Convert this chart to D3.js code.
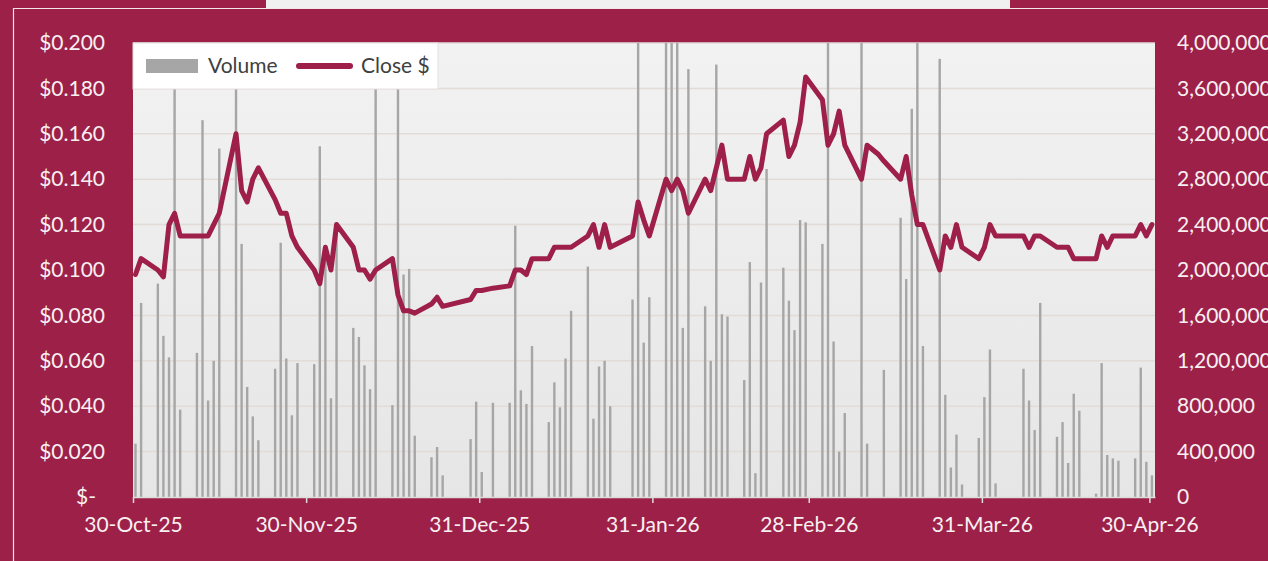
<!DOCTYPE html>
<html>
<head>
<meta charset="utf-8">
<script src="https://cdn.jsdelivr.net/npm/d3@7/dist/d3.min.js"></script>
<style>
html, body { margin: 0; padding: 0; background: #9d2048; }
svg { display: block; font-family: Lato, "Open Sans", sans-serif; }
</style>
</head>
<body>
<svg width="1268" height="561"></svg>
<script>
// trading days, one line per week
var tradeDates = [
  "2025-10-30","2025-10-31",
  "2025-11-03","2025-11-04","2025-11-05","2025-11-06","2025-11-07",
  "2025-11-10","2025-11-11","2025-11-12","2025-11-13","2025-11-14",
  "2025-11-17","2025-11-18","2025-11-19","2025-11-20","2025-11-21",
  "2025-11-24","2025-11-25","2025-11-26","2025-11-27","2025-11-28",
  "2025-12-01","2025-12-02","2025-12-03","2025-12-04","2025-12-05",
  "2025-12-08","2025-12-09","2025-12-10","2025-12-11","2025-12-12",
  "2025-12-15","2025-12-16","2025-12-17","2025-12-18","2025-12-19",
  "2025-12-22","2025-12-23","2025-12-24",
  "2025-12-29","2025-12-30","2025-12-31","2026-01-02",
  "2026-01-05","2026-01-06","2026-01-07","2026-01-08","2026-01-09",
  "2026-01-12","2026-01-13","2026-01-14","2026-01-15","2026-01-16",
  "2026-01-19","2026-01-20","2026-01-21","2026-01-22","2026-01-23",
  "2026-01-27","2026-01-28","2026-01-29","2026-01-30",
  "2026-02-02","2026-02-03","2026-02-04","2026-02-05","2026-02-06",
  "2026-02-09","2026-02-10","2026-02-11","2026-02-12","2026-02-13",
  "2026-02-16","2026-02-17","2026-02-18","2026-02-19","2026-02-20",
  "2026-02-23","2026-02-24","2026-02-25","2026-02-26","2026-02-27",
  "2026-03-02","2026-03-03","2026-03-04","2026-03-05","2026-03-06",
  "2026-03-09","2026-03-10","2026-03-11","2026-03-12","2026-03-13",
  "2026-03-16","2026-03-17","2026-03-18","2026-03-19","2026-03-20",
  "2026-03-23","2026-03-24","2026-03-25","2026-03-26","2026-03-27",
  "2026-03-30","2026-03-31","2026-04-01","2026-04-02",
  "2026-04-07","2026-04-08","2026-04-09","2026-04-10",
  "2026-04-13","2026-04-14","2026-04-15","2026-04-16","2026-04-17",
  "2026-04-20","2026-04-21","2026-04-22","2026-04-23","2026-04-24",
  "2026-04-27","2026-04-28","2026-04-29","2026-04-30"
];

var closePrice = [
  0.098, 0.105,
  0.100, 0.097, 0.120, 0.125, 0.115,
  0.115, 0.115, 0.115, 0.120, 0.125,
  0.160, 0.135, 0.130, 0.140, 0.145,
  0.131, 0.125, 0.125, 0.115, 0.110,
  0.100, 0.094, 0.110, 0.100, 0.120,
  0.110, 0.100, 0.100, 0.096, 0.100,
  0.105, 0.089, 0.082, 0.082, 0.081,
  0.085, 0.088, 0.084,
  0.087, 0.091, 0.091, 0.092,
  0.093, 0.100, 0.100, 0.098, 0.105,
  0.105, 0.110, 0.110, 0.110, 0.110,
  0.115, 0.120, 0.110, 0.120, 0.110,
  0.115, 0.130, 0.122, 0.115,
  0.140, 0.135, 0.140, 0.135, 0.125,
  0.140, 0.135, 0.145, 0.155, 0.140,
  0.140, 0.150, 0.140, 0.145, 0.160,
  0.166, 0.150, 0.155, 0.165, 0.185,
  0.175, 0.155, 0.160, 0.170, 0.155,
  0.140, 0.155, 0.153, 0.151, 0.148,
  0.140, 0.150, 0.133, 0.120, 0.120,
  0.100, 0.115, 0.110, 0.120, 0.110,
  0.105, 0.110, 0.120, 0.115,
  0.115, 0.110, 0.115, 0.115,
  0.110, 0.110, 0.110, 0.105, 0.105,
  0.105, 0.115, 0.110, 0.115, 0.115,
  0.115, 0.120, 0.115, 0.120
];

var volume = [
  470000, 1710000,
  1880000, 1420000, 1230000, 4400000, 770000,
  1270000, 3320000, 850000, 1200000, 3070000,
  4400000, 2230000, 970000, 710000, 500000,
  1130000, 2240000, 1220000, 720000, 1180000,
  1170000, 3090000, 2200000, 870000, 2400000,
  1490000, 1410000, 1160000, 950000, 4400000,
  810000, 4400000, 1960000, 2010000, 540000,
  350000, 440000, 190000,
  510000, 840000, 220000, 830000,
  830000, 2390000, 940000, 820000, 1330000,
  660000, 1010000, 790000, 1220000, 1640000,
  2030000, 690000, 1150000, 1200000, 800000,
  1740000, 4400000, 1360000, 1760000,
  4400000, 4400000, 4400000, 1490000, 3770000,
  1680000, 1200000, 3810000, 1610000, 1590000,
  1030000, 2070000, 210000, 1890000, 2890000,
  2020000, 1730000, 1470000, 2440000, 2420000,
  2230000, 4400000, 1370000, 400000, 740000,
  4400000, 470000, 0, 0, 1120000,
  2460000, 1920000, 3420000, 4400000, 1330000,
  3860000, 900000, 260000, 550000, 110000,
  520000, 880000, 1300000, 120000,
  1130000, 850000, 590000, 1710000,
  530000, 660000, 300000, 910000, 760000,
  30000, 1180000, 370000, 340000, 320000,
  340000, 1140000, 310000, 190000
];

var priceTicks = [0, 0.02, 0.04, 0.06, 0.08, 0.10, 0.12, 0.14, 0.16, 0.18, 0.20];
var volumeTicks = [0, 400000, 800000, 1200000, 1600000, 2000000, 2400000, 2800000, 3200000, 3600000, 4000000];
var dateTicks = ["2025-10-30","2025-11-30","2025-12-31","2026-01-31","2026-02-28","2026-03-31","2026-04-30"];
var legendLabels = ["Volume", "Close $"];

var svg = d3.select("svg");
var W = +svg.attr("width"), H = +svg.attr("height");
var plot = {left: 133, right: 1155, top: 43, bottom: 497};

var parse = d3.utcParse("%Y-%m-%d");
var rows = tradeDates.map(function(d, i) {
  return {date: parse(d), close: closePrice[i], volume: volume[i]};
});

var x = d3.scaleUtc()
  .domain([parse("2025-10-30"), parse("2026-05-01")])
  .range([plot.left, plot.right]);
var yPrice = d3.scaleLinear().domain([0, 0.2]).range([plot.bottom, plot.top]);
var yVol = d3.scaleLinear().domain([0, 4000000]).range([plot.bottom, plot.top]);
var barOffset = 2.5;

// frame bits at the top / left
svg.append("rect").attr("x", 266).attr("y", 0).attr("width", 744).attr("height", 8).attr("fill", "#f0f0f0");
svg.append("path")
  .attr("d", "M13.5," + H + "V8.5H" + W)
  .attr("fill", "none").attr("stroke", "#f4e6ea").attr("stroke-width", 1.2);

var defs = svg.append("defs");
var grad = defs.append("linearGradient").attr("id", "plotBg")
  .attr("x1", 0).attr("y1", 0).attr("x2", 0).attr("y2", 1);
grad.append("stop").attr("offset", "0%").attr("stop-color", "#f2f2f2");
grad.append("stop").attr("offset", "100%").attr("stop-color", "#e6e6e6");
defs.append("clipPath").attr("id", "plotClip").append("rect")
  .attr("x", plot.left).attr("y", plot.top)
  .attr("width", plot.right - plot.left).attr("height", plot.bottom - plot.top);

svg.append("rect")
  .attr("x", plot.left).attr("y", plot.top)
  .attr("width", plot.right - plot.left).attr("height", plot.bottom - plot.top)
  .attr("fill", "url(#plotBg)");

// gridlines
svg.append("g").selectAll("line")
  .data(priceTicks.filter(function(t) { return t > 0; }))
  .enter().append("line")
  .attr("x1", plot.left).attr("x2", plot.right)
  .attr("y1", function(d) { return yPrice(d); })
  .attr("y2", function(d) { return yPrice(d); })
  .attr("stroke", "#e2dcd8").attr("stroke-width", 1.5);

// volume bars
svg.append("g").attr("clip-path", "url(#plotClip)")
  .selectAll("rect")
  .data(rows.filter(function(d) { return d.volume > 0; }))
  .enter().append("rect")
  .attr("x", function(d) { return x(d.date) + barOffset - 1.2; })
  .attr("width", 2.4)
  .attr("y", function(d) { return yVol(d.volume); })
  .attr("height", function(d) { return plot.bottom - yVol(d.volume); })
  .attr("fill", "#a6a6a6");

// close line
var line = d3.line()
  .x(function(d) { return x(d.date) + barOffset; })
  .y(function(d) { return yPrice(d.close); });
svg.append("path")
  .datum(rows)
  .attr("d", line)
  .attr("fill", "none")
  .attr("stroke", "#9d1f4a")
  .attr("stroke-width", 5)
  .attr("stroke-linejoin", "round")
  .attr("stroke-linecap", "round");

// x axis
var xAxis = d3.axisBottom(x)
  .tickValues(dateTicks.map(parse))
  .tickFormat(d3.utcFormat("%d-%b-%y"))
  .tickSizeInner(6).tickSizeOuter(0).tickPadding(14);
var gx = svg.append("g").attr("transform", "translate(0," + plot.bottom + ")").call(xAxis);
gx.select(".domain").attr("stroke", "#dcdcdc").attr("stroke-width", 1.5);
gx.selectAll(".tick line").attr("stroke", "#dcdcdc").attr("stroke-width", 1.5);
gx.selectAll(".tick text").attr("fill", "#f7f0f2").style("font-size", "21px").style("font-family", "Lato");

// left price axis
var fmtPrice = d3.format(".3f");
var yAxisL = d3.axisLeft(yPrice)
  .tickValues(priceTicks)
  .tickFormat(function(d) { return d === 0 ? "$-" : "$" + fmtPrice(d); })
  .tickSize(0).tickPadding(28);
var gl = svg.append("g").attr("transform", "translate(" + plot.left + ",0)").call(yAxisL);
gl.select(".domain").remove();
gl.selectAll(".tick text").attr("fill", "#f7f0f2").style("font-size", "21px").style("font-family", "Lato")
  .attr("dx", function(d) { return d === 0 ? -9 : 0; });

// right volume axis (labels run off the page edge, as in the source)
var yAxisR = d3.axisRight(yVol)
  .tickValues(volumeTicks)
  .tickFormat(d3.format(","))
  .tickSize(0).tickPadding(22);
var gr = svg.append("g").attr("transform", "translate(" + plot.right + ",0)").call(yAxisR);
gr.select(".domain").remove();
gr.selectAll(".tick text").attr("fill", "#f7f0f2").style("font-size", "21px").style("font-family", "Lato");

// legend
var lg = svg.append("g");
lg.append("rect")
  .attr("x", plot.left).attr("y", plot.top).attr("width", 305).attr("height", 46)
  .attr("fill", "#ffffff").attr("stroke", "#e4e0de").attr("stroke-width", 1);
lg.append("rect").attr("x", 146).attr("y", 59).attr("width", 52).attr("height", 14).attr("fill", "#a6a6a6");
lg.append("text").attr("x", 208).attr("y", 66).attr("dy", "0.35em")
  .attr("fill", "#404040").style("font-size", "21px").text(legendLabels[0]);
lg.append("line").attr("x1", 299).attr("x2", 350).attr("y1", 66).attr("y2", 66)
  .attr("stroke", "#9d1f4a").attr("stroke-width", 6).attr("stroke-linecap", "round");
lg.append("text").attr("x", 361).attr("y", 66).attr("dy", "0.35em")
  .attr("fill", "#404040").style("font-size", "21px").text(legendLabels[1]);
</script>
</body>
</html>
